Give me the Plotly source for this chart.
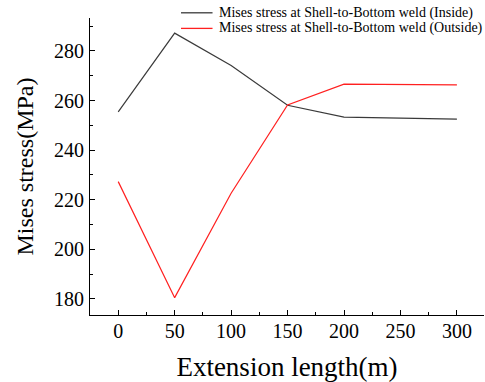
import plotly.graph_objects as go

# Extension length (m) and Mises stress (MPa) at the shell-to-bottom weld
extension = [0, 50, 100, 150, 200, 250, 300]
stress_inside = [255.4, 287.2, 274.1, 258.1, 253.3, 252.9, 252.5]
stress_outside = [227.3, 180.5, 222.6, 258.2, 266.6, 266.5, 266.3]

series_names = [
    "Mises stress at Shell-to-Bottom weld (Inside)",
    "Mises stress at Shell-to-Bottom weld (Outside)",
]
series_colors = ["#3a3a3a", "#ff2020"]

serif = "Liberation Serif"

fig = go.Figure()
for ys, name, color in zip([stress_inside, stress_outside], series_names, series_colors):
    fig.add_trace(go.Scatter(
        x=extension, y=ys, mode="lines", name=name,
        line=dict(color=color, width=1.2), showlegend=False,
    ))

# Compact legend drawn in paper coordinates above the plot area
legend_rows_y = [1.0175, 0.965]
for ly, name, color in zip(legend_rows_y, series_names, series_colors):
    fig.add_shape(type="line", xref="paper", yref="paper",
                  x0=0.231, x1=0.311, y0=ly, y1=ly,
                  line=dict(color=color, width=1.3))
    fig.add_annotation(xref="paper", yref="paper", x=0.322, y=ly,
                       xanchor="left", yanchor="middle", showarrow=False,
                       text=name, font=dict(family=serif, size=14, color="black"))

# Vertical axis title
fig.add_annotation(xref="paper", yref="paper", x=-0.165, y=0.5,
                   xanchor="center", yanchor="middle", showarrow=False, textangle=-90,
                   text="Mises stress(MPa)", font=dict(family=serif, size=24, color="black"))

axis_common = dict(
    showgrid=False, zeroline=False, showline=True, linecolor="black", linewidth=1.2,
    ticks="inside", ticklen=5, tickwidth=1, tickcolor="black",
    tickfont=dict(family=serif, size=20, color="black"),
)

fig.update_layout(
    width=485, height=382,
    margin=dict(l=90, r=1, t=18, b=67),
    paper_bgcolor="white", plot_bgcolor="white",
    font=dict(family=serif, color="black"),
    xaxis=dict(
        range=[-25, 324], tickvals=[0, 50, 100, 150, 200, 250, 300],
        minor=dict(ticks="inside", ticklen=3, dtick=25, tick0=0, tickcolor="black"),
        ticklabelstandoff=-2,
        title=dict(text="Extension length(m)", font=dict(family=serif, size=27, color="black"), standoff=16),
        **axis_common,
    ),
    yaxis=dict(
        range=[173.5, 293.3], tickvals=[180, 200, 220, 240, 260, 280],
        minor=dict(ticks="inside", ticklen=3, dtick=10, tick0=0, tickcolor="black"),
        ticklabelstandoff=1,
        **axis_common,
    ),
)

fig.write_html("out.html")
